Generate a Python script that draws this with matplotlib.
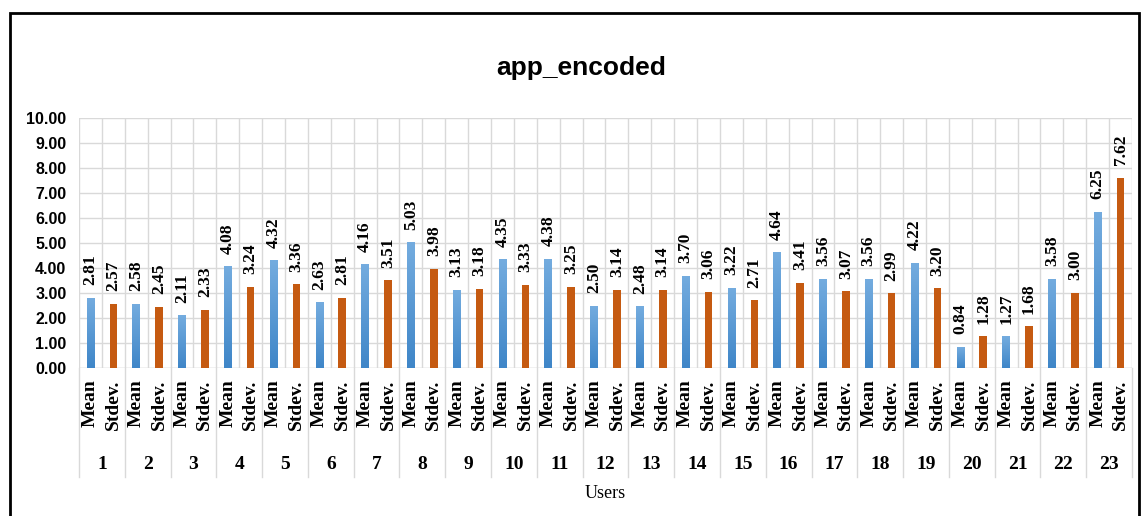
import numpy as np
import matplotlib
matplotlib.use("Agg")
import matplotlib.pyplot as plt
from matplotlib.patches import Rectangle
from matplotlib.colors import LinearSegmentedColormap
import matplotlib.transforms as mtrans

users = [str(i) for i in range(1, 24)]
stats = ["Mean", "Stdev."]
means = [2.81, 2.58, 2.11, 4.08, 4.32, 2.63, 4.16, 5.03, 3.13, 4.35, 4.38, 2.50,
         2.48, 3.70, 3.22, 4.64, 3.56, 3.56, 4.22, 0.84, 1.27, 3.58, 6.25]
stdevs = [2.57, 2.45, 2.33, 3.24, 3.36, 2.81, 3.51, 3.98, 3.18, 3.33, 3.25, 3.14,
          3.14, 3.06, 2.71, 3.41, 3.07, 2.99, 3.20, 1.28, 1.68, 3.00, 7.62]
yticks = np.arange(0, 11, 1)

serif = "Liberation Serif"
sans = "Liberation Sans"
blue_cmap = LinearSegmentedColormap.from_list("bl", ["#3F86C8", "#74ACDF"])
orange = "#C55A11"

fig = plt.figure(figsize=(11.44, 5.16), dpi=100)
ax = fig.add_axes([79 / 1144, 1 - 368 / 516, (1132 - 79) / 1144, 250 / 516])

n = len(users)
xm = np.arange(n) * 2
xs = xm + 1
w = 0.33

bm = ax.bar(xm, means, width=w, color="#5B9BD5", zorder=3)
bs = ax.bar(xs, stdevs, width=w, color=orange, zorder=3)

# gradient fill for the blue bars
grad = np.linspace(0, 1, 100).reshape(-1, 1)
for b in bm:
    x0, h = b.get_x(), b.get_height()
    im = ax.imshow(grad, cmap=blue_cmap, origin="lower", aspect="auto",
                   extent=(x0, x0 + w, 0, h), zorder=4)
    im.set_clip_path(b)

for bars, vals in ((bm, means), (bs, stdevs)):
    for b, v in zip(bars, vals):
        ax.annotate(f"{v:.2f}", (b.get_x() + w / 2, v), xytext=(0, 9),
                    textcoords="offset points", rotation=90, ha="center", va="bottom",
                    fontsize=12.5, fontweight="bold", family=serif, zorder=5)

ax.set_xlim(-0.5, 2 * n - 0.5)
ax.set_ylim(0, 10)
ax.set_yticks(yticks)
ax.set_yticklabels([f"{t:.2f}" for t in yticks], fontsize=11.5, fontweight="bold", family=sans)
ax.tick_params(axis="y", length=0, pad=9)
ax.set_xticks(np.arange(-0.5, 2 * n, 1), minor=False)
ax.set_xticklabels([])
ax.tick_params(axis="x", length=0)
ax.grid(True, color="#D9D9D9", lw=1, zorder=0)
for s in ax.spines.values():
    s.set_visible(False)
ax.axhline(0, color="#D9D9D9", lw=1, zorder=2)

# multi-level category axis
tr = mtrans.blended_transform_factory(ax.transData, ax.transAxes)
for i in range(n):
    for j, lab in enumerate(stats):
        ax.text(2 * i + j, -0.045, lab, transform=tr, rotation=90, ha="center", va="top",
                fontsize=14, fontweight="bold", family=serif)
    ax.text(2 * i + 0.5, -0.385, users[i], transform=tr, ha="center", va="center",
            fontsize=14, fontweight="bold", family=serif)
for k in range(n + 1):
    ax.plot([2 * k - 0.5, 2 * k - 0.5], [0, -0.436], transform=tr, color="#D9D9D9",
            lw=1, clip_on=False)
ax.text(0.5, -0.5, "Users", transform=ax.transAxes, ha="center", va="center",
        fontsize=13, family=serif)

fig.text(0.508, 1 - 68 / 516, "app_encoded", ha="center", va="center",
         fontsize=19, fontweight="bold", family=sans)

fig.add_artist(Rectangle((10 / 1144, -0.05), (1139 - 10) / 1144, 1.05 - 13 / 516,
                         transform=fig.transFigure, fill=False, ec="black", lw=2))

fig.savefig("out.png", dpi=100)
